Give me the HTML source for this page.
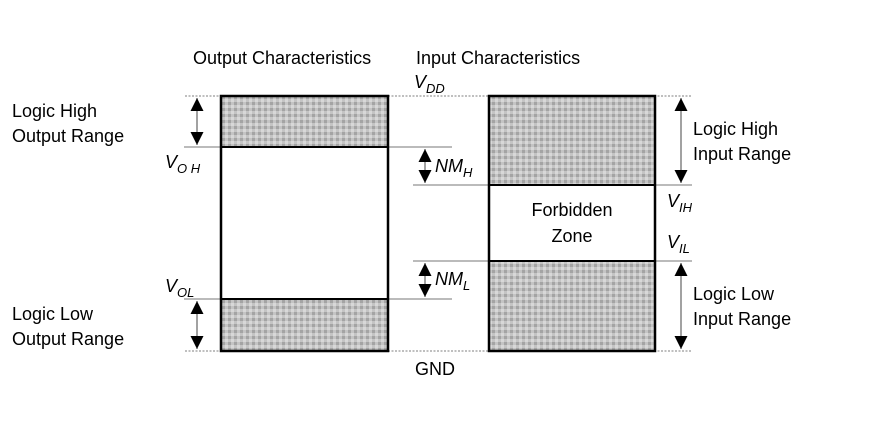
<!DOCTYPE html>
<html><head><style>body{margin:0;background:#fff}svg{display:block}text{font-family:"Liberation Sans",sans-serif;font-size:18px;fill:#000}</style></head>
<body>
<svg width="892" height="425" xmlns="http://www.w3.org/2000/svg">
<defs>
<pattern id="p" width="6" height="6" patternUnits="userSpaceOnUse">
<rect width="6" height="6" fill="#c4c4c4"/><rect width="3" height="3" fill="#a4a4a4"/><rect x="3" y="3" width="3" height="3" fill="#d8d8d8"/>
</pattern>
<marker id="a" viewBox="0 0 10 10" refX="10" refY="5" markerWidth="14" markerHeight="13" markerUnits="userSpaceOnUse" orient="auto-start-reverse"><path d="M0,0L10,5L0,10z" fill="#000"/></marker>
</defs>
<g stroke="#999" stroke-width="1.2" stroke-dasharray="2,1.5">
<line x1="185" y1="96" x2="692" y2="96"/><line x1="185" y1="351" x2="692" y2="351"/>
</g>
<g stroke="#777" stroke-width="1">
<line x1="184" y1="147" x2="452" y2="147"/>
<line x1="413" y1="185" x2="692" y2="185"/>
<line x1="413" y1="261" x2="692" y2="261"/>
<line x1="184" y1="299" x2="452" y2="299"/>
</g>
<rect x="221" y="96" width="167" height="51" fill="url(#p)"/>
<rect x="221" y="299" width="167" height="52" fill="url(#p)"/>
<rect x="221" y="96" width="167" height="255" fill="none" stroke="#000" stroke-width="2.5"/>
<line x1="221" y1="147" x2="388" y2="147" stroke="#000" stroke-width="2"/>
<line x1="221" y1="299" x2="388" y2="299" stroke="#000" stroke-width="2"/>
<rect x="489" y="96" width="166" height="89" fill="url(#p)"/>
<rect x="489" y="261" width="166" height="90" fill="url(#p)"/>
<rect x="489" y="96" width="166" height="255" fill="none" stroke="#000" stroke-width="2.5"/>
<line x1="489" y1="185" x2="655" y2="185" stroke="#000" stroke-width="2"/>
<line x1="489" y1="261" x2="655" y2="261" stroke="#000" stroke-width="2"/>
<g stroke="#444" stroke-width="1" marker-start="url(#a)" marker-end="url(#a)">
<line x1="197" y1="98" x2="197" y2="145"/>
<line x1="197" y1="301" x2="197" y2="349"/>
<line x1="425" y1="149" x2="425" y2="183"/>
<line x1="425" y1="263" x2="425" y2="297"/>
<line x1="681" y1="98" x2="681" y2="183"/>
<line x1="681" y1="263" x2="681" y2="349"/>
</g>
<text x="193" y="64">Output Characteristics</text>
<text x="416" y="64">Input Characteristics</text>
<text x="414" y="88" font-style="italic">V<tspan font-size="13" dy="5">DD</tspan></text>
<text x="12" y="117">Logic High</text>
<text x="12" y="142">Output Range</text>
<text x="165" y="168" font-style="italic">V<tspan font-size="13" dy="5">O H</tspan></text>
<text x="165" y="292" font-style="italic">V<tspan font-size="13" dy="5">OL</tspan></text>
<text x="12" y="320">Logic Low</text>
<text x="12" y="345">Output Range</text>
<text x="435" y="172" font-style="italic">NM<tspan font-size="13" dy="5">H</tspan></text>
<text x="435" y="285" font-style="italic">NM<tspan font-size="13" dy="5">L</tspan></text>
<text x="572" y="216" text-anchor="middle">Forbidden</text>
<text x="572" y="242" text-anchor="middle">Zone</text>
<text x="667" y="207" font-style="italic">V<tspan font-size="13" dy="5">IH</tspan></text>
<text x="667" y="248" font-style="italic">V<tspan font-size="13" dy="5">IL</tspan></text>
<text x="693" y="135">Logic High</text>
<text x="693" y="160">Input Range</text>
<text x="693" y="300">Logic Low</text>
<text x="693" y="325">Input Range</text>
<text x="415" y="375">GND</text>
</svg>
</body></html>
